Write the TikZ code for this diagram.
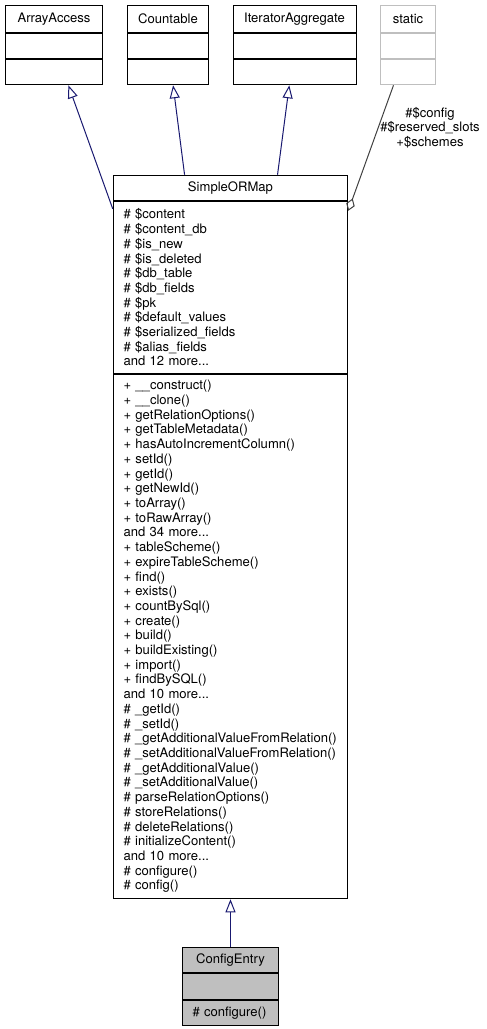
\documentclass[tikz,border=0pt]{standalone}
\usepackage{fontspec}
\setmainfont{TeX Gyre Heros}
\usetikzlibrary{positioning,fit,arrows.meta}
\definecolor{edgeblue}{RGB}{25,25,112}
\definecolor{grey25}{RGB}{64,64,64}
\definecolor{grey75}{RGB}{191,191,191}
\tikzset{
  umlbox/.style={draw, line width=0.75pt, inner sep=0pt,
    font=\fontsize{9.8}{11.03}\selectfont},
  members/.style={umlbox, align=left, inner xsep=7.5pt, text width=#1},
  inherit/.style={draw=edgeblue, line width=0.75pt,
    -{Triangle[open, length=9.75pt, width=7.5pt]}},
  usage/.style={draw=grey25, line width=0.75pt,
    -{Diamond[open, length=9.75pt, width=6.75pt]}},
  edgelabel/.style={inner sep=0pt, align=center,
    font=\fontsize{9.8}{11.03}\selectfont},
}
\begin{document}
\begin{tikzpicture}[x=0.75pt, y=-0.75pt]
  \useasboundingbox (0,0) rectangle (486,1029);
  \node[umlbox, anchor=north west, minimum width=72.75pt, minimum height=20.25pt] (aa) at (5,5) {ArrayAccess};
  \node[umlbox, below=0pt of aa, minimum width=72.75pt, minimum height=18.75pt] (aa-attr) {};
  \node[umlbox, below=0pt of aa-attr, minimum width=72.75pt, minimum height=18.75pt] (aa-meth) {};
  \node[fit=(aa)(aa-meth), inner sep=0pt] (ArrayAccess) {};

  \node[umlbox, anchor=north west, minimum width=60.75pt, minimum height=20.25pt] (cnt) at (127,5) {Countable};
  \node[umlbox, below=0pt of cnt, minimum width=60.75pt, minimum height=18.75pt] (cnt-attr) {};
  \node[umlbox, below=0pt of cnt-attr, minimum width=60.75pt, minimum height=18.75pt] (cnt-meth) {};
  \node[fit=(cnt)(cnt-meth), inner sep=0pt] (Countable) {};

  \node[umlbox, anchor=north west, minimum width=92.25pt, minimum height=20.25pt] (ia) at (232.5,5) {IteratorAggregate};
  \node[umlbox, below=0pt of ia, minimum width=92.25pt, minimum height=18.75pt] (ia-attr) {};
  \node[umlbox, below=0pt of ia-attr, minimum width=92.25pt, minimum height=18.75pt] (ia-meth) {};
  \node[fit=(ia)(ia-meth), inner sep=0pt] (IteratorAggregate) {};

  \begin{scope}[every node/.append style={draw=grey75}]
    \node[umlbox, anchor=north west, minimum width=41.25pt, minimum height=20.25pt] (st) at (380,5) {static};
    \node[umlbox, below=0pt of st, minimum width=41.25pt, minimum height=18.75pt] (st-attr) {};
    \node[umlbox, below=0pt of st-attr, minimum width=41.25pt, minimum height=18.75pt] (st-meth) {};
  \end{scope}
  \node[fit=(st)(st-meth), inner sep=0pt] (static) {};

  \node[umlbox, anchor=north west, minimum width=175.5pt, minimum height=18.75pt] (sorm) at (113,175) {SimpleORMap};
  \node[members=160.5pt, below=0pt of sorm, minimum height=129pt] (sorm-attr) {%
    \# \$content\\
    \# \$content\_db\\
    \# \$is\_new\\
    \# \$is\_deleted\\
    \# \$db\_table\\
    \# \$db\_fields\\
    \# \$pk\\
    \# \$default\_values\\
    \# \$serialized\_fields\\
    \# \$alias\_fields\\
    and 12 more...};
  \node[members=160.5pt, below=0pt of sorm-attr, minimum height=393pt] (sorm-meth) {%
    + \_\_construct()\\
    + \_\_clone()\\
    + getRelationOptions()\\
    + getTableMetadata()\\
    + hasAutoIncrementColumn()\\
    + setId()\\
    + getId()\\
    + getNewId()\\
    + toArray()\\
    + toRawArray()\\
    and 34 more...\\
    + tableScheme()\\
    + expireTableScheme()\\
    + find()\\
    + exists()\\
    + countBySql()\\
    + create()\\
    + build()\\
    + buildExisting()\\
    + import()\\
    + findBySQL()\\
    and 10 more...\\
    \# \_getId()\\
    \# \_setId()\\
    \# \_getAdditionalValueFromRelation()\\
    \# \_setAdditionalValueFromRelation()\\
    \# \_getAdditionalValue()\\
    \# \_setAdditionalValue()\\
    \# parseRelationOptions()\\
    \# storeRelations()\\
    \# deleteRelations()\\
    \# initializeContent()\\
    and 10 more...\\
    \# configure()\\
    \# config()};
  \node[fit=(sorm)(sorm-meth), inner sep=0pt] (SimpleORMap) {};

  \begin{scope}[every node/.append style={fill=grey75}]
    \node[umlbox, anchor=north west, minimum width=72pt, minimum height=18.75pt] (ce) at (182,947) {ConfigEntry};
    \node[umlbox, below=0pt of ce, minimum width=72pt, minimum height=19.5pt] (ce-attr) {};
    \node[members=57pt, below=0pt of ce-attr, minimum height=18.75pt] (ce-meth) {\# configure()};
  \end{scope}
  \node[fit=(ce)(ce-meth), inner sep=0pt] (ConfigEntry) {};

  \draw[inherit] (SimpleORMap) -- (ArrayAccess);
  \draw[inherit] (SimpleORMap) -- (Countable);
  \draw[inherit] (SimpleORMap) -- (IteratorAggregate);
  \draw[usage] (static) -- (SimpleORMap);
  \node[edgelabel] (static-vars) at (430,127.5) {\#\$config\\\#\$reserved\_slots\\+\$schemes};
  \draw[inherit] (ConfigEntry) -- (SimpleORMap);
\end{tikzpicture}
\end{document}
